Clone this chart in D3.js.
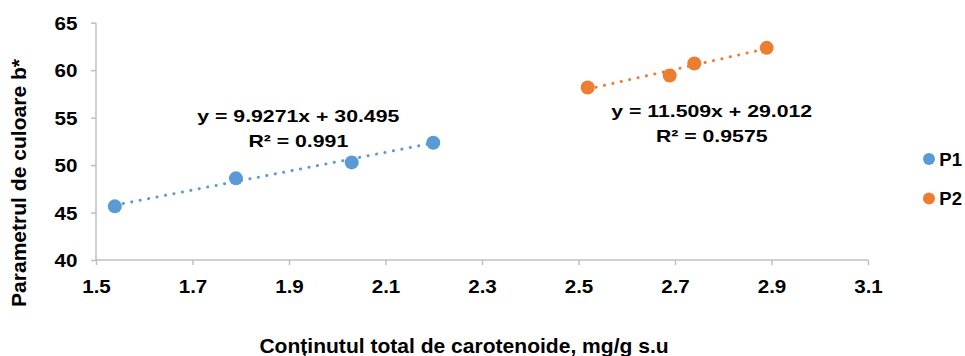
<!DOCTYPE html>
<html>
<head>
<meta charset="utf-8">
<script src="https://cdn.jsdelivr.net/npm/d3@7"></script>
<style>
  body { margin: 0; background: #fff; }
  text { font-family: "Liberation Sans", Arial, sans-serif; font-weight: bold; fill: #000; font-size: 17px; }
</style>
</head>
<body>
<svg id="chart" width="965" height="356"></svg>
<script>
// date
var p1X = [1.539, 1.790, 2.030, 2.199],
    p1Y = [45.65, 48.6, 50.28, 52.35];
var p2X = [2.519, 2.689, 2.740, 2.890],
    p2Y = [58.18, 59.44, 60.7, 62.35];
var seriesNames = ["P1", "P2"];
var seriesColors = ["#5B9BD5", "#ED7D31"];
var trendSlope = [9.9271, 11.509],
    trendIntercept = [30.495, 29.012];
var trendLabels = [["y = 9.9271x + 30.495", "R² = 0.991"], ["y = 11.509x + 29.012", "R² = 0.9575"]];
var xTicks = [1.5, 1.7, 1.9, 2.1, 2.3, 2.5, 2.7, 2.9, 3.1],
    yTicks = [40, 45, 50, 55, 60, 65];

var svg = d3.select("#chart");

var xScale = d3.scaleLinear().domain([1.5, 3.1]).range([96, 868]),
    yScale = d3.scaleLinear().domain([40, 65]).range([260, 22.7]);

// text latit (fontul din original e mai lat), pozitionat cu translate
function wideText(sel, x, y, sx, rot) {
    return sel.append("text")
        .attr("transform", "translate(" + x + "," + y + ")" + (rot ? " rotate(" + rot + ")" : "") + " scale(" + sx + ",1)");
}

// axa x
var xAxis = svg.append("g")
    .attr("transform", "translate(0," + yScale(40) + ")")
    .call(d3.axisBottom(xScale).tickValues(xTicks).tickFormat(d3.format(".1f")).tickSize(5))
    .call(g => g.select(".domain").remove());
xAxis.selectAll(".tick text")
    .attr("y", 0).attr("dy", 0)
    .style("font-size", "17.6px")
    .attr("transform", "translate(0,33) scale(1.17,1)");

// axa y
var yAxis = svg.append("g")
    .attr("transform", "translate(" + xScale(1.5) + ",0)")
    .call(d3.axisLeft(yScale).tickValues(yTicks).tickSize(5))
    .call(g => g.select(".domain").remove());
yAxis.selectAll(".tick text")
    .attr("x", 0).attr("dy", 0)
    .style("font-size", "17.6px")
    .attr("transform", "translate(-18.5,6.5) scale(1.17,1)");

svg.selectAll(".tick line").attr("stroke", "#bfbfbf").attr("stroke-width", 1.5);
svg.append("line").attr("x1", xScale(1.5)).attr("x2", xScale(3.1)).attr("y1", yScale(40)).attr("y2", yScale(40))
    .attr("stroke", "#bfbfbf").attr("stroke-width", 1.5);
svg.append("line").attr("x1", xScale(1.5)).attr("x2", xScale(1.5)).attr("y1", yScale(40)).attr("y2", yScale(65))
    .attr("stroke", "#bfbfbf").attr("stroke-width", 1.5);

var series = [
    { x: p1X, y: p1Y },
    { x: p2X, y: p2Y }
];

series.forEach(function (s, i) {
    var x0 = d3.min(s.x), x1 = d3.max(s.x);
    // linia de tendinta
    svg.append("line")
        .attr("x1", xScale(x0)).attr("y1", yScale(trendSlope[i] * x0 + trendIntercept[i]))
        .attr("x2", xScale(x1)).attr("y2", yScale(trendSlope[i] * x1 + trendIntercept[i]))
        .attr("stroke", seriesColors[i])
        .attr("stroke-width", 3)
        .attr("stroke-linecap", "round")
        .attr("stroke-dasharray", "0.1 8.5");

    svg.selectAll(".pt" + i)
        .data(d3.zip(s.x, s.y))
        .enter().append("circle")
        .attr("class", "pt" + i)
        .attr("cx", function (d) { return xScale(d[0]); })
        .attr("cy", function (d) { return yScale(d[1]); })
        .attr("r", 7)
        .attr("fill", seriesColors[i]);
});

// etichete ecuatii
var labelPos = [[298.3, 122.3], [711.7, 117.3]];
trendLabels.forEach(function (lines, i) {
    lines.forEach(function (l, j) {
        wideText(svg, labelPos[i][0], labelPos[i][1] + j * 24.4, 1.25)
            .attr("text-anchor", "middle")
            .text(l);
    });
});

// legenda
seriesNames.forEach(function (n, i) {
    var ly = 159 + i * 39.5;
    svg.append("circle").attr("cx", 929).attr("cy", ly).attr("r", 6).attr("fill", seriesColors[i]);
    wideText(svg, 939.3, ly + 6.8, 1).style("font-size", "18.5px").text(n);
});

// titluri axe
wideText(svg, 26, 183, 1.08, -90)
    .attr("text-anchor", "middle")
    .style("font-size", "19.5px")
    .text("Parametrul de culoare b*");

wideText(svg, 464, 353, 1.08)
    .attr("text-anchor", "middle")
    .style("font-size", "19.5px")
    .text("Conținutul total de carotenoide, mg/g s.u");
</script>
</body>
</html>
